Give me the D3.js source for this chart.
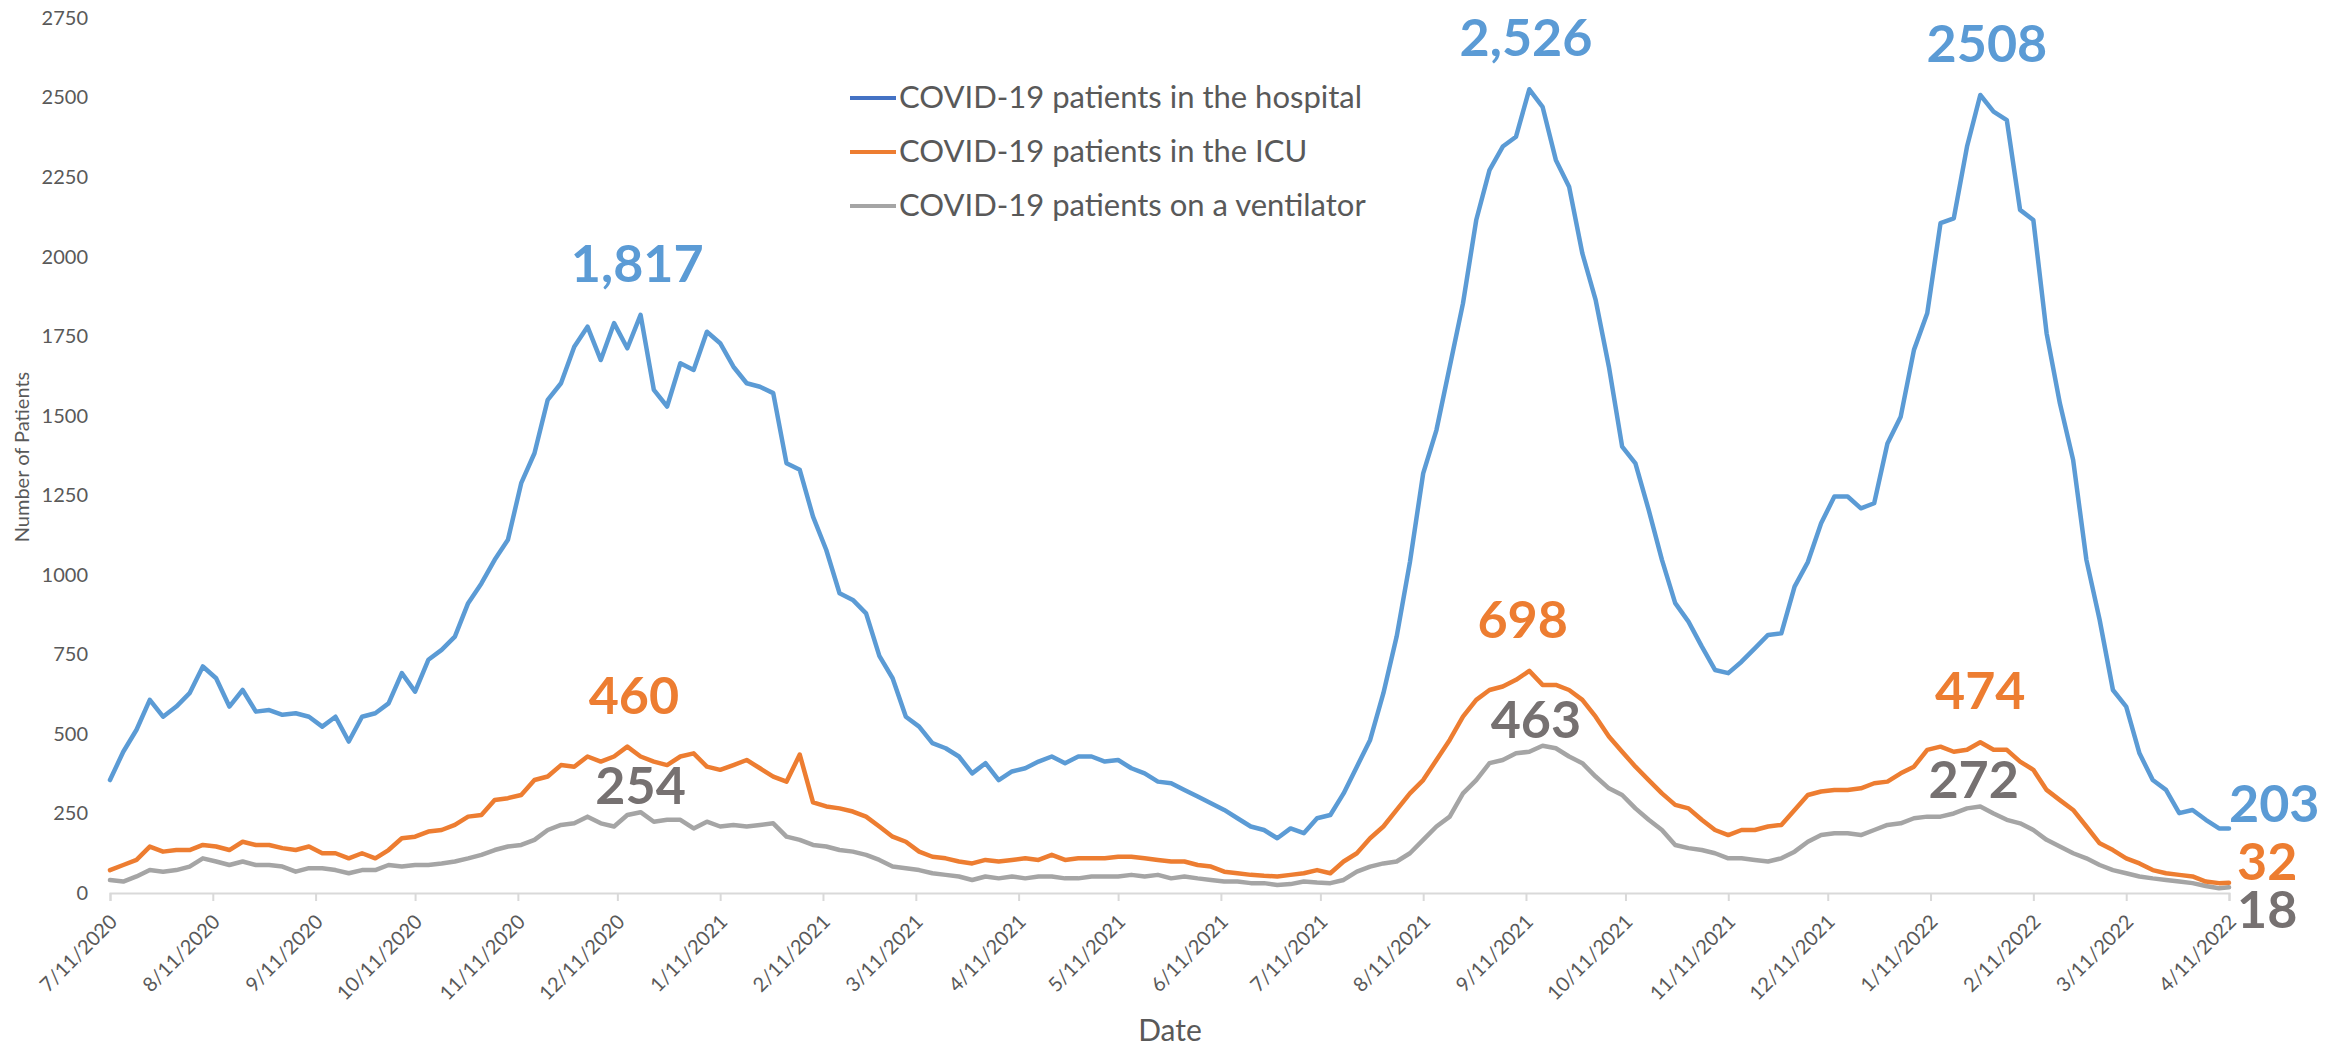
<!DOCTYPE html>
<meta charset="utf-8">
<body></body>
<script src="https://d3js.org/d3.v7.min.js"></script>
<style>
    body {
        margin: 0;
        background-color: #fff;
    }
    text {
        font-family: Lato, "Open Sans", sans-serif;
    }
    .series {
        fill: none;
        stroke-width: 4.5px;
        stroke-linejoin: round;
        stroke-linecap: round;
    }
    .axis-title {
        fill: #595959;
    }
    .legend text {
        fill: #595959;
        font-size: 31px;
    }
    .big-label {
        font-weight: bold;
        font-size: 52px;
    }
</style>
<script>

    // values, one every 4 days from 7/11/2020, last one on 4/11/2022
    var startDay = "2020-07-11",
        endDay = "2022-04-11",
        sampleStep = 4;

    var hospital = [355,444,513,607,554,586,628,712,675,586,
        638,570,575,560,565,554,523,554,476,554,
        565,596,691,633,733,764,806,911,973,1047,
        1110,1288,1382,1550,1602,1717,1780,1675,1791,1712,
        1817,1581,1529,1665,1644,1764,1728,1654,1602,1591,
        1571,1351,1330,1183,1078,942,921,879,745,675,
        554,523,471,455,429,376,408,355,382,392,
        413,429,408,429,429,413,418,392,376,350,
        345,324,303,282,261,235,209,198,172,203,
        188,235,245,313,397,481,628,806,1040,1319,
        1455,1654,1853,2115,2272,2346,2377,2526,2471,2304,
        2220,2010,1864,1654,1403,1350,1204,1047,911,853,
        775,701,691,727,769,811,816,963,1040,1162,
        1246,1246,1209,1225,1413,1497,1707,1822,2105,2120,
        2346,2508,2456,2429,2147,2115,1759,1539,1361,1047,
        858,638,586,439,355,324,251,261,230,203,
        203];

    var icu = [72,88,104,146,130,135,135,151,146,135,
        161,151,151,141,135,146,125,125,109,125,
        109,135,172,177,193,198,214,240,245,292,
        298,308,355,366,402,397,429,413,429,460,
        429,413,402,429,439,397,387,402,418,392,
        366,350,435,285,272,266,256,240,209,177,
        161,130,114,109,99,93,104,99,104,109,
        104,120,104,109,109,109,114,114,109,104,
        99,99,88,83,67,62,57,54,52,57,
        62,72,62,99,125,172,209,261,313,355,
        418,481,554,607,638,649,670,698,654,654,
        638,607,554,492,444,397,355,313,277,266,
        230,198,182,198,198,209,214,261,308,319,
        324,324,329,345,350,376,397,450,460,444,
        450,474,450,450,413,387,324,292,261,209,
        156,135,109,93,72,62,57,52,36,31,
        32];

    var ventilator = [41,36,52,72,67,72,83,109,99,88,
        99,88,88,83,67,78,78,72,62,72,
        72,88,83,88,88,93,99,109,120,135,
        146,151,167,198,214,219,240,219,209,245,
        254,224,230,230,203,224,209,214,209,214,
        219,177,167,151,146,135,130,120,104,83,
        78,72,62,57,52,41,52,46,52,46,
        52,52,46,46,52,52,52,57,52,57,
        46,52,46,41,36,36,31,31,25,28,
        36,33,31,41,67,83,93,99,125,167,
        209,240,313,355,408,418,439,444,463,455,
        429,408,366,329,308,266,230,198,151,141,
        135,125,109,109,104,99,109,130,161,182,
        188,188,182,198,214,219,235,240,240,250,
        266,272,250,230,219,198,167,146,125,109,
        88,72,62,52,46,41,36,31,22,15,
        18];

    var monthTicks = ["7/11/2020","8/11/2020","9/11/2020","10/11/2020","11/11/2020","12/11/2020",
        "1/11/2021","2/11/2021","3/11/2021","4/11/2021","5/11/2021","6/11/2021",
        "7/11/2021","8/11/2021","9/11/2021","10/11/2021","11/11/2021","12/11/2021",
        "1/11/2022","2/11/2022","3/11/2022","4/11/2022"];

    var yTicks = [0,250,500,750,1000,1250,1500,1750,2000,2250,2500,2750];

    var seriesNames = ["COVID-19 patients in the hospital", "COVID-19 patients in the ICU", "COVID-19 patients on a ventilator"];

    // peak call-outs: which series, text, date, value
    var peakSeries = [0, 0, 0, 1, 1, 1, 2, 2, 2];
    var peakText = ["1,817", "2,526", "2508", "460", "698", "474", "254", "463", "272"];
    var peakDates = ["2020-12-17", "2021-09-11", "2022-01-28", "2020-12-16", "2021-09-10", "2022-01-26", "2020-12-18", "2021-09-14", "2022-01-24"];
    var peakValues = [1817, 2526, 2508, 460, 698, 474, 254, 463, 272];

    // last values printed at the right end
    var endText = ["203", "32", "18"];
    var endValues = [203, 32, 18];

    var width = 2338,
        height = 1049;

    var lineColors = ["#5B9BD5", "#ED7D31", "#A5A5A5"];
    var legendColors = ["#4472C4", "#ED7D31", "#A5A5A5"];
    var labelColors = ["#5B9BD5", "#ED7D31", "#767171"];

    var svg = d3.select("body")
        .append("svg")
            .attr("width", width)
            .attr("height", height);

    var parseIso = d3.utcParse("%Y-%m-%d");
    var parseTick = d3.utcParse("%m/%d/%Y");

    var x = d3.scaleUtc()
        .domain([parseIso(startDay), parseIso(endDay)])
        .range([110, 2229]);

    var y = d3.scaleLinear()
        .domain([0, 2750])
        .range([893, 18]);

    function sampleDate(i, n) {
        if (i == n - 1) { return parseIso(endDay) }
        return d3.utcDay.offset(parseIso(startDay), i * sampleStep);
    }

    // y axis, labels only
    var yAxis = svg.append("g")
        .attr("transform", "translate(110,0)")
        .call(d3.axisLeft(y)
            .tickValues(yTicks)
            .tickFormat(d3.format("d"))
            .tickSize(0)
            .tickPadding(22));
    yAxis.select(".domain").remove();
    yAxis.selectAll("text")
        .attr("font-family", "Lato, sans-serif")
        .attr("font-size", 20)
        .attr("fill", "#595959");

    // x axis with rotated dates
    var xAxis = svg.append("g")
        .attr("transform", "translate(0,893)")
        .call(d3.axisBottom(x)
            .tickValues(monthTicks.map(parseTick))
            .tickSizeOuter(0)
            .tickSize(8)
            .tickFormat(function(d, i) { return monthTicks[i]; }));
    xAxis.select(".domain")
        .attr("stroke", "#d9d9d9")
        .attr("stroke-width", 2);
    xAxis.selectAll(".tick line")
        .attr("stroke", "#d9d9d9")
        .attr("stroke-width", 2);
    xAxis.selectAll("text")
        .attr("font-family", "Lato, sans-serif")
        .attr("font-size", 20)
        .attr("fill", "#595959")
        .attr("text-anchor", "end")
        .attr("x", 0)
        .attr("y", 0)
        .attr("dy", 0)
        .attr("transform", "translate(8,30) rotate(-45)");

    svg.append("text")
        .attr("class", "axis-title")
        .attr("x", 1170)
        .attr("y", 1041)
        .attr("text-anchor", "middle")
        .attr("font-size", 30)
        .text("Date");

    svg.append("text")
        .attr("class", "axis-title")
        .attr("transform", "translate(29,457) rotate(-90)")
        .attr("text-anchor", "middle")
        .attr("font-size", 20)
        .text("Number of Patients");

    // the three lines
    var line = d3.line()
        .x(function(d) { return x(d.date); })
        .y(function(d) { return y(d.value); });

    var allSeries = [hospital, icu, ventilator];

    svg.append("g")
        .selectAll("path")
        .data(allSeries.slice().reverse())
        .enter().append("path")
            .attr("class", "series")
            .attr("stroke", function(d, i) { return lineColors[2 - i]; })
            .attr("d", function(values) {
                return line(values.map(function(v, i) {
                    return { date: sampleDate(i, values.length), value: v };
                }));
            });

    // legend
    var legend = svg.append("g").attr("class", "legend");
    seriesNames.forEach(function(name, i) {
        var rowY = 98 + i * 54;
        legend.append("line")
            .attr("x1", 850).attr("x2", 896)
            .attr("y1", rowY).attr("y2", rowY)
            .attr("stroke", legendColors[i])
            .attr("stroke-width", 4);
        legend.append("text")
            .attr("x", 899)
            .attr("y", rowY + 10)
            .text(name);
    });

    // peak call-outs
    svg.append("g")
        .selectAll("text")
        .data(peakText)
        .enter().append("text")
            .attr("class", "big-label")
            .attr("text-anchor", "middle")
            .attr("x", function(d, i) { return x(parseIso(peakDates[i])); })
            .attr("y", function(d, i) {
                var lift = peakSeries[i] == 2 ? 8 : 33;
                return y(peakValues[i]) - lift;
            })
            .attr("fill", function(d, i) { return labelColors[peakSeries[i]]; })
            .text(function(d) { return d; });

    // end values
    var endShift = [[0, -6], [8, -3], [8, 41]];
    svg.append("g")
        .selectAll("text")
        .data(endText)
        .enter().append("text")
            .attr("class", "big-label")
            .attr("x", function(d, i) { return x(parseIso(endDay)) + endShift[i][0]; })
            .attr("y", function(d, i) { return y(endValues[i]) + endShift[i][1]; })
            .attr("fill", function(d, i) { return labelColors[i]; })
            .text(function(d) { return d; });

</script>
